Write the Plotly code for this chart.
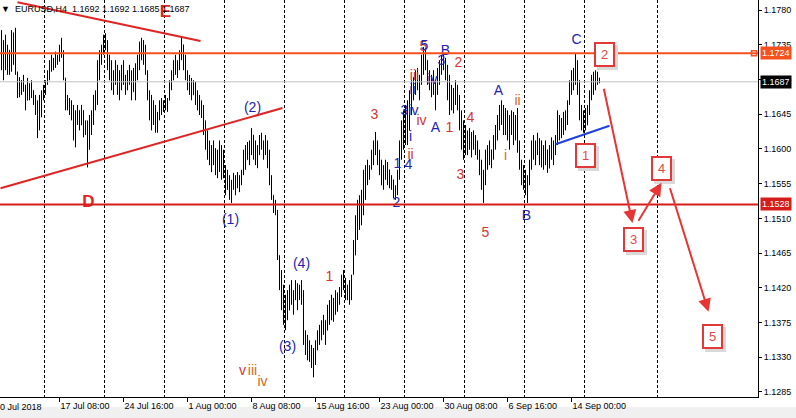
import plotly.graph_objects as go

# ---------------- OHLC data (H4 bars) ----------------
highs = [
1.1754,1.1741,1.1748,1.1735,1.1728,1.1754,1.1751,1.1757,1.1700,1.1693,
1.1689,1.1696,1.1683,1.1692,1.1685,1.1689,1.1676,1.1670,1.1663,1.1670,
1.1676,1.1683,1.1689,1.1702,1.1715,1.1722,1.1718,1.1726,1.1722,1.1735,
1.1744,1.1728,1.1692,1.1670,1.1666,1.1663,1.1657,1.1650,1.1657,1.1650,
1.1657,1.1650,1.1637,1.1637,1.1644,1.1650,1.1670,1.1676,1.1715,1.1728,
1.1735,1.1748,1.1750,1.1741,1.1722,1.1715,1.1702,1.1715,1.1709,1.1702,
1.1709,1.1715,1.1696,1.1702,1.1709,1.1702,1.1705,1.1711,1.1722,1.1739,
1.1744,1.1741,1.1735,1.1702,1.1676,1.1670,1.1663,1.1657,1.1648,1.1663,
1.1666,1.1663,1.1670,1.1666,1.1689,1.1702,1.1715,1.1722,1.1715,1.1728,
1.1744,1.1735,1.1722,1.1702,1.1696,1.1692,1.1689,1.1687,1.1676,1.1670,
1.1663,1.1657,1.1637,1.1624,1.1611,1.1605,1.1611,1.1601,1.1599,1.1611,
1.1605,1.1599,1.1579,1.1573,1.1566,1.1560,1.1569,1.1566,1.1570,1.1566,
1.1573,1.1599,1.1605,1.1609,1.1611,1.1627,1.1618,1.1611,1.1605,1.1618,
1.1621,1.1611,1.1618,1.1611,1.1599,1.1566,1.1540,1.1534,1.1521,1.1462,
1.1443,1.1424,1.1411,1.1417,1.1424,1.1430,1.1417,1.1430,1.1426,1.1424,
1.1430,1.1417,1.1365,1.1359,1.1352,1.1346,1.1342,1.1352,1.1365,1.1372,
1.1378,1.1385,1.1378,1.1398,1.1404,1.1411,1.1407,1.1417,1.1414,1.1421,
1.1437,1.1443,1.1433,1.1424,1.1430,1.1437,1.1482,1.1514,1.1534,1.1540,
1.1547,1.1573,1.1579,1.1586,1.1579,1.1599,1.1611,1.1622,1.1611,1.1599,
1.1586,1.1579,1.1586,1.1583,1.1573,1.1566,1.1560,1.1553,1.1573,1.1611,
1.1637,1.1650,1.1657,1.1663,1.1676,1.1689,1.1693,1.1702,1.1705,1.1696,
1.1722,1.1732,1.1731,1.1715,1.1702,1.1696,1.1702,1.1689,1.1705,1.1715,
1.1722,1.1724,1.1718,1.1709,1.1696,1.1683,1.1679,1.1689,1.1683,1.1670,
1.1650,1.1637,1.1631,1.1624,1.1627,1.1622,1.1624,1.1618,1.1611,1.1599,
1.1586,1.1573,1.1599,1.1605,1.1611,1.1599,1.1618,1.1631,1.1644,1.1657,
1.1663,1.1657,1.1653,1.1650,1.1644,1.1650,1.1648,1.1644,1.1653,1.1611,
1.1586,1.1579,1.1573,1.1566,1.1586,1.1611,1.1618,1.1611,1.1621,1.1614,
1.1611,1.1605,1.1611,1.1599,1.1605,1.1615,1.1611,1.1618,1.1650,1.1644,
1.1640,1.1648,1.1650,1.1663,1.1689,1.1702,1.1705,1.1724,1.1715,1.1689,
1.1657,1.1650,1.1653,1.1657,1.1676,1.1696,1.1700,1.1702,1.1700,1.1692,
]
lows = [
1.1702,1.1689,1.1702,1.1696,1.1696,1.1700,1.1709,1.1696,1.1666,1.1667,
1.1670,1.1674,1.1650,1.1663,1.1663,1.1666,1.1657,1.1644,1.1614,1.1624,
1.1641,1.1663,1.1670,1.1683,1.1689,1.1700,1.1702,1.1705,1.1709,1.1713,
1.1718,1.1689,1.1650,1.1650,1.1644,1.1637,1.1611,1.1602,1.1631,1.1624,
1.1631,1.1615,1.1618,1.1576,1.1599,1.1618,1.1631,1.1650,1.1657,1.1689,
1.1709,1.1722,1.1728,1.1702,1.1689,1.1676,1.1670,1.1683,1.1670,1.1663,
1.1676,1.1683,1.1670,1.1676,1.1683,1.1663,1.1674,1.1663,1.1689,1.1702,
1.1715,1.1709,1.1696,1.1663,1.1637,1.1624,1.1631,1.1621,1.1621,1.1637,
1.1644,1.1648,1.1650,1.1648,1.1663,1.1676,1.1689,1.1696,1.1692,1.1702,
1.1715,1.1702,1.1689,1.1676,1.1670,1.1663,1.1670,1.1657,1.1650,1.1644,
1.1640,1.1618,1.1599,1.1586,1.1579,1.1570,1.1579,1.1566,1.1562,1.1570,
1.1560,1.1562,1.1540,1.1547,1.1534,1.1530,1.1547,1.1540,1.1549,1.1544,
1.1553,1.1566,1.1573,1.1586,1.1579,1.1592,1.1586,1.1579,1.1575,1.1592,
1.1599,1.1586,1.1592,1.1575,1.1553,1.1534,1.1517,1.1514,1.1456,1.1417,
1.1391,1.1372,1.1365,1.1378,1.1391,1.1398,1.1385,1.1404,1.1391,1.1404,
1.1398,1.1346,1.1333,1.1326,1.1324,1.1316,1.1304,1.1320,1.1339,1.1346,
1.1352,1.1359,1.1346,1.1365,1.1372,1.1378,1.1376,1.1385,1.1389,1.1398,
1.1408,1.1417,1.1404,1.1404,1.1398,1.1404,1.1437,1.1462,1.1482,1.1495,
1.1501,1.1514,1.1534,1.1553,1.1560,1.1573,1.1579,1.1592,1.1579,1.1566,
1.1553,1.1547,1.1560,1.1553,1.1549,1.1547,1.1536,1.1534,1.1540,1.1560,
1.1586,1.1599,1.1605,1.1605,1.1624,1.1644,1.1663,1.1670,1.1676,1.1663,
1.1683,1.1696,1.1702,1.1683,1.1676,1.1667,1.1670,1.1650,1.1670,1.1683,
1.1696,1.1702,1.1689,1.1663,1.1644,1.1650,1.1646,1.1657,1.1650,1.1624,
1.1599,1.1586,1.1592,1.1592,1.1599,1.1589,1.1599,1.1592,1.1586,1.1566,
1.1547,1.1530,1.1553,1.1573,1.1579,1.1575,1.1586,1.1599,1.1611,1.1624,
1.1631,1.1618,1.1618,1.1611,1.1599,1.1618,1.1605,1.1611,1.1595,1.1573,
1.1553,1.1547,1.1540,1.1530,1.1553,1.1573,1.1586,1.1579,1.1592,1.1579,
1.1576,1.1573,1.1579,1.1569,1.1575,1.1586,1.1579,1.1592,1.1605,1.1611,
1.1614,1.1618,1.1624,1.1631,1.1657,1.1670,1.1676,1.1683,1.1670,1.1637,
1.1624,1.1621,1.1624,1.1631,1.1644,1.1663,1.1670,1.1676,1.1683,1.1685,
]
opens = [
1.1745,1.1712,1.1730,1.1710,1.1728,1.1705,1.1745,1.1720,1.1700,1.1675,
1.1688,1.1680,1.1683,1.1663,1.1685,1.1670,1.1676,1.1662,1.1650,1.1630,
1.1660,1.1670,1.1680,1.1686,1.1698,1.1710,1.1705,1.1715,1.1712,1.1718,
1.1730,1.1725,1.1692,1.1658,1.1665,1.1650,1.1645,1.1620,1.1640,1.1650,
1.1631,1.1650,1.1625,1.1630,1.1600,1.1635,1.1645,1.1665,1.1670,1.1710,
1.1722,1.1730,1.1740,1.1735,1.1710,1.1700,1.1690,1.1698,1.1690,1.1680,
1.1695,1.1700,1.1690,1.1688,1.1695,1.1690,1.1674,1.1700,1.1705,1.1718,
1.1735,1.1725,1.1730,1.1700,1.1670,1.1645,1.1640,1.1650,1.1630,1.1645,
1.1655,1.1660,1.1652,1.1665,1.1663,1.1685,1.1698,1.1710,1.1700,1.1712,
1.1725,1.1735,1.1710,1.1695,1.1685,1.1690,1.1670,1.1685,1.1665,1.1660,
1.1650,1.1645,1.1625,1.1605,1.1595,1.1590,1.1580,1.1600,1.1575,1.1590,
1.1580,1.1570,1.1575,1.1550,1.1560,1.1545,1.1555,1.1560,1.1550,1.1565,
1.1555,1.1570,1.1590,1.1586,1.1600,1.1595,1.1618,1.1600,1.1590,1.1600,
1.1612,1.1605,1.1600,1.1610,1.1585,1.1560,1.1540,1.1525,1.1520,1.1462,
1.1430,1.1400,1.1380,1.1400,1.1391,1.1415,1.1405,1.1410,1.1420,1.1405,
1.1418,1.1410,1.1355,1.1345,1.1335,1.1340,1.1325,1.1335,1.1345,1.1360,
1.1355,1.1370,1.1378,1.1365,1.1390,1.1385,1.1405,1.1395,1.1410,1.1400,
1.1415,1.1430,1.1425,1.1410,1.1420,1.1405,1.1437,1.1475,1.1505,1.1500,
1.1530,1.1520,1.1565,1.1560,1.1570,1.1575,1.1595,1.1605,1.1600,1.1585,
1.1575,1.1560,1.1570,1.1565,1.1573,1.1555,1.1560,1.1540,1.1548,1.1568,
1.1600,1.1625,1.1610,1.1650,1.1624,1.1670,1.1685,1.1675,1.1695,1.1685,
1.1690,1.1715,1.1705,1.1715,1.1690,1.1695,1.1675,1.1689,1.1680,1.1700,
1.1710,1.1705,1.1715,1.1695,1.1680,1.1660,1.1675,1.1660,1.1680,1.1665,
1.1635,1.1610,1.1600,1.1620,1.1600,1.1615,1.1600,1.1612,1.1600,1.1590,
1.1570,1.1555,1.1565,1.1590,1.1580,1.1599,1.1590,1.1610,1.1625,1.1640,
1.1650,1.1640,1.1625,1.1645,1.1620,1.1630,1.1640,1.1615,1.1635,1.1605,
1.1580,1.1565,1.1555,1.1550,1.1560,1.1580,1.1605,1.1595,1.1605,1.1600,
1.1590,1.1600,1.1580,1.1599,1.1575,1.1600,1.1595,1.1605,1.1612,1.1640,
1.1620,1.1635,1.1625,1.1645,1.1660,1.1685,1.1680,1.1700,1.1690,1.1689,
1.1645,1.1630,1.1640,1.1631,1.1650,1.1670,1.1690,1.1680,1.1698,1.1692,
]
closes = [
1.1712,1.1730,1.1710,1.1728,1.1705,1.1745,1.1720,1.1700,1.1675,1.1688,
1.1680,1.1690,1.1660,1.1685,1.1670,1.1682,1.1662,1.1650,1.1630,1.1660,
1.1670,1.1680,1.1686,1.1698,1.1710,1.1705,1.1715,1.1712,1.1718,1.1730,
1.1725,1.1695,1.1658,1.1665,1.1650,1.1645,1.1620,1.1640,1.1650,1.1630,
1.1652,1.1625,1.1630,1.1600,1.1635,1.1645,1.1665,1.1670,1.1710,1.1722,
1.1730,1.1740,1.1735,1.1710,1.1700,1.1690,1.1698,1.1690,1.1680,1.1695,
1.1700,1.1690,1.1688,1.1695,1.1690,1.1670,1.1700,1.1705,1.1718,1.1735,
1.1725,1.1730,1.1700,1.1670,1.1645,1.1640,1.1650,1.1630,1.1645,1.1655,
1.1660,1.1652,1.1665,1.1660,1.1685,1.1698,1.1710,1.1700,1.1712,1.1725,
1.1735,1.1710,1.1695,1.1685,1.1690,1.1670,1.1685,1.1665,1.1660,1.1650,
1.1645,1.1625,1.1605,1.1595,1.1590,1.1580,1.1600,1.1575,1.1590,1.1580,
1.1570,1.1575,1.1550,1.1560,1.1545,1.1555,1.1560,1.1550,1.1565,1.1555,
1.1570,1.1590,1.1585,1.1600,1.1595,1.1620,1.1600,1.1590,1.1600,1.1612,
1.1605,1.1600,1.1610,1.1585,1.1560,1.1540,1.1525,1.1520,1.1465,1.1430,
1.1400,1.1380,1.1400,1.1390,1.1415,1.1405,1.1410,1.1420,1.1405,1.1418,
1.1410,1.1355,1.1345,1.1335,1.1340,1.1325,1.1335,1.1345,1.1360,1.1355,
1.1370,1.1380,1.1360,1.1390,1.1385,1.1405,1.1395,1.1410,1.1400,1.1415,
1.1430,1.1425,1.1410,1.1420,1.1405,1.1430,1.1475,1.1505,1.1500,1.1530,
1.1520,1.1565,1.1560,1.1570,1.1575,1.1595,1.1605,1.1600,1.1585,1.1575,
1.1560,1.1570,1.1565,1.1575,1.1555,1.1560,1.1540,1.1548,1.1568,1.1600,
1.1625,1.1610,1.1650,1.1620,1.1670,1.1685,1.1675,1.1695,1.1685,1.1690,
1.1715,1.1705,1.1720,1.1690,1.1695,1.1675,1.1695,1.1680,1.1700,1.1710,
1.1705,1.1715,1.1695,1.1680,1.1660,1.1675,1.1660,1.1680,1.1665,1.1635,
1.1610,1.1600,1.1620,1.1600,1.1615,1.1600,1.1612,1.1600,1.1590,1.1570,
1.1555,1.1565,1.1590,1.1580,1.1600,1.1590,1.1610,1.1625,1.1640,1.1650,
1.1640,1.1625,1.1645,1.1620,1.1630,1.1640,1.1615,1.1635,1.1605,1.1580,
1.1565,1.1555,1.1550,1.1560,1.1580,1.1605,1.1595,1.1605,1.1600,1.1590,
1.1600,1.1580,1.1600,1.1575,1.1600,1.1595,1.1605,1.1612,1.1640,1.1620,
1.1635,1.1625,1.1645,1.1660,1.1685,1.1680,1.1700,1.1690,1.1700,1.1645,
1.1630,1.1640,1.1630,1.1650,1.1670,1.1690,1.1680,1.1698,1.1692,1.1687,
]
bar_index = list(range(len(closes)))

# ---------------- axes ----------------
x_tick_bars = [29, 61, 93, 125, 157, 189, 221, 253, 285]
x_tick_text = ["17 Jul 08:00", "24 Jul 16:00", "1 Aug 00:00", "8 Aug 08:00",
               "15 Aug 16:00", "23 Aug 00:00", "30 Aug 08:00", "6 Sep 16:00",
               "14 Sep 00:00"]
first_date_label = "10 Jul 2018"
grid_bars = [21.5, 51.5, 81.5, 111.5, 141.5, 171.5, 201.5, 231.5, 261.5, 291.5, 328]
price_ticks = [1.1285, 1.1330, 1.1375, 1.1420, 1.1465, 1.1510, 1.1555,
               1.1600, 1.1645, 1.1690, 1.1735, 1.1780]
x_range = [-0.75, 378.25]
y_range = [1.12785, 1.17930]

title_text = "\u25BC\u00a0\u00a0EURUSD,H4\u00a0\u00a01.1692\u00a01.1692\u00a01.1685\u00a01.1687"

# ---------------- levels ----------------
level_resist = 1.1724
level_support = 1.1528
level_last = 1.1687

# ---------------- drawn trend lines ----------------
tl_x0 = [8, -0.5, 277]
tl_y0 = [1.1790, 1.1549, 1.1606]
tl_x1 = [99.5, 140.5, 304]
tl_y1 = [1.1740, 1.1653, 1.1630]
tl_color = ["#E02424", "#E02424", "#1F3FE0"]

# ---------------- wave labels ----------------
BLUE = "#2323B0"
RED = "#D23434"
ORNG = "#D2691E"
wave_text = ["(1)", "(2)", "(3)", "(4)", "(5)", "1", "v", "iii", "iv",
             "3", "2", "1", "4", "ii", "i", "3iv", "iv", "ii", "iii", "iv",
             "5", "5", "B", "3", "2", "A", "1", "4", "3", "5", "A", "ii", "i", "B", "C"]
wave_x = [114.5, 125.5, 143, 150, 158.5, 164, 120.5, 125.5, 130.5,
          186.5, 197.5, 198, 203.5, 204.5, 204.5, 204, 210, 205.5, 206.5, 215.5,
          211, 211.5, 222, 220, 228.5, 217, 224, 234.5, 229.5, 242, 248.5, 258, 252, 262.5, 287.5]
wave_y = [1.1507, 1.1653, 1.1343, 1.1450, 1.1272, 1.1433, 1.1312, 1.1311, 1.1297,
          1.1643, 1.1529, 1.1580, 1.1579, 1.1592, 1.1615, 1.1649, 1.1636, 1.1676, 1.1694, 1.1689,
          1.1731, 1.1733, 1.1726, 1.1713, 1.1711, 1.1626, 1.1627, 1.1639, 1.1566, 1.1491,
          1.1675, 1.1661, 1.1590, 1.1513, 1.1740]
wave_color = [BLUE, BLUE, BLUE, BLUE, BLUE, RED, RED, ORNG, ORNG,
              RED, BLUE, BLUE, BLUE, RED, BLUE, BLUE, RED, BLUE, RED, BLUE,
              RED, BLUE, BLUE, BLUE, RED, BLUE, RED, RED, RED, RED, BLUE, ORNG, ORNG, BLUE, BLUE]

big_text = ["E", "D"]
big_x = [82, 43.5]
big_y = [1.1777, 1.1530]

# ---------------- forecast boxes and arrows ----------------
box_text = ["1", "2", "3", "4", "5"]
box_x = [292, 301.5, 316, 330, 355.5]
box_y = [1.1591, 1.1722, 1.1482, 1.1574, 1.1357]

arrow_x0 = [301, 318, 334]
arrow_y0 = [1.1680, 1.1505, 1.1551]
arrow_x1 = [315.5, 330, 353.5]
arrow_y1 = [1.1504, 1.1556, 1.1389]

FONT = "Liberation Sans, Arial, sans-serif"

fig = go.Figure()
fig.add_trace(go.Ohlc(
    x=bar_index, open=opens, high=highs, low=lows, close=closes,
    increasing=dict(line=dict(color="black", width=1)),
    decreasing=dict(line=dict(color="black", width=1)),
    tickwidth=0.25, hoverinfo="skip", showlegend=False))

fig.add_trace(go.Scatter(
    x=wave_x, y=wave_y, text=wave_text, mode="text",
    textfont=dict(family=FONT, size=14, color=wave_color),
    textposition="middle center", cliponaxis=True,
    hoverinfo="skip", showlegend=False))

fig.add_trace(go.Scatter(
    x=big_x, y=big_y, text=["<b>%s</b>" % t for t in big_text], mode="text",
    textfont=dict(family=FONT, size=17, color="#E02424"),
    textposition="middle center", hoverinfo="skip", showlegend=False))

fig.add_trace(go.Scatter(
    x=[x_range[1] - 2], y=[level_resist], mode="markers",
    marker=dict(symbol="square-open", size=5, color="#F4511E", line=dict(width=1.5)),
    cliponaxis=False, hoverinfo="skip", showlegend=False))

shapes = []
shapes.append(dict(type="line", xref="paper", x0=0, x1=1, yref="y", y0=level_last, y1=level_last,
                   line=dict(color="#C0C0C0", width=1)))
shapes.append(dict(type="line", xref="paper", x0=0, x1=1, yref="y", y0=level_resist, y1=level_resist,
                   line=dict(color="#F4511E", width=2)))
shapes.append(dict(type="line", xref="paper", x0=0, x1=1, yref="y", y0=level_support, y1=level_support,
                   line=dict(color="#D41C1C", width=2)))
for i in range(len(tl_x0)):
    shapes.append(dict(type="line", xref="x", yref="y", x0=tl_x0[i], y0=tl_y0[i],
                       x1=tl_x1[i], y1=tl_y1[i], line=dict(color=tl_color[i], width=2)))
shapes.append(dict(type="rect", xref="paper", yref="paper", x0=-0.01, x1=1.06,
                   y0=-0.0545, y1=-0.0255, fillcolor="#F0F0F0", line=dict(width=0),
                   layer="below"))

annotations = []
annotations.append(dict(xref="paper", yref="paper", x=0, y=1, xanchor="left", yanchor="top",
                        xshift=-1, yshift=-2, text=title_text, showarrow=False,
                        font=dict(family=FONT, size=9, color="black")))
annotations.append(dict(xref="paper", yref="paper", x=-7 / 758, y=0, xanchor="left",
                        yanchor="top", yshift=-3, text=first_date_label, showarrow=False,
                        font=dict(family=FONT, size=9, color="black")))
for val, bg in [(level_resist, "#F4511E"), (level_last, "#000000"), (level_support, "#D41C1C")]:
    annotations.append(dict(xref="paper", yref="y", x=1, y=val, xanchor="left", xshift=2,
                            text="%.4f" % val, showarrow=False, bgcolor=bg, borderpad=1,
                            height=10, font=dict(family=FONT, size=9, color="white")))
for t, bx, by in zip(box_text, box_x, box_y):
    annotations.append(dict(xref="x", yref="y", x=bx, y=by, text=" ", showarrow=False,
                            xshift=3, yshift=-3, width=13, height=17, bgcolor="#D9D9D9",
                            borderpad=2, borderwidth=2, bordercolor="#D9D9D9"))
    annotations.append(dict(xref="x", yref="y", x=bx, y=by, text=t, showarrow=False,
                            width=13, height=17, bgcolor="white", borderpad=2,
                            borderwidth=2, bordercolor="#E23838",
                            font=dict(family=FONT, size=13, color="#E04848")))
for x0, y0, x1, y1 in zip(arrow_x0, arrow_y0, arrow_x1, arrow_y1):
    annotations.append(dict(xref="x", yref="y", axref="x", ayref="y", x=x1, y=y1, ax=x0, ay=y0,
                            text="", showarrow=True, arrowhead=2, arrowsize=1.3,
                            arrowwidth=2, arrowcolor="#E83434"))

fig.update_layout(
    width=796, height=418,
    margin=dict(l=0, r=38, t=0, b=21, autoexpand=False),
    paper_bgcolor="white", plot_bgcolor="white",
    showlegend=False,
    font=dict(family=FONT, size=9, color="black"),
    shapes=shapes, annotations=annotations,
)
fig.update_xaxes(
    automargin=False,
    range=x_range, rangeslider_visible=False, showgrid=False, zeroline=False,
    tickmode="array", tickvals=x_tick_bars, ticktext=x_tick_text,
    ticks="outside", ticklen=4, tickcolor="black", ticklabelposition="outside right",
    tickfont=dict(family=FONT, size=9, color="black"),
    showline=True, linecolor="black", linewidth=1,
    minor=dict(tickmode="array", tickvals=grid_bars, showgrid=True, gridcolor="black",
               griddash="3px,2px", gridwidth=1, ticks=""),
)
fig.update_yaxes(
    automargin=False,
    side="right", range=y_range, tickmode="array", tickvals=price_ticks,
    ticktext=["%.4f" % v for v in price_ticks], ticks="outside", ticklen=3,
    tickcolor="black", tickfont=dict(family=FONT, size=9, color="black"),
    showgrid=False, zeroline=False, showline=True, linecolor="black", linewidth=1,
)

fig.write_html(
    "out.html",
    config={"staticPlot": True, "displayModeBar": False},
    post_script="document.body.style.margin='0';document.body.style.padding='0';"
                "document.body.style.overflow='hidden';",
)
